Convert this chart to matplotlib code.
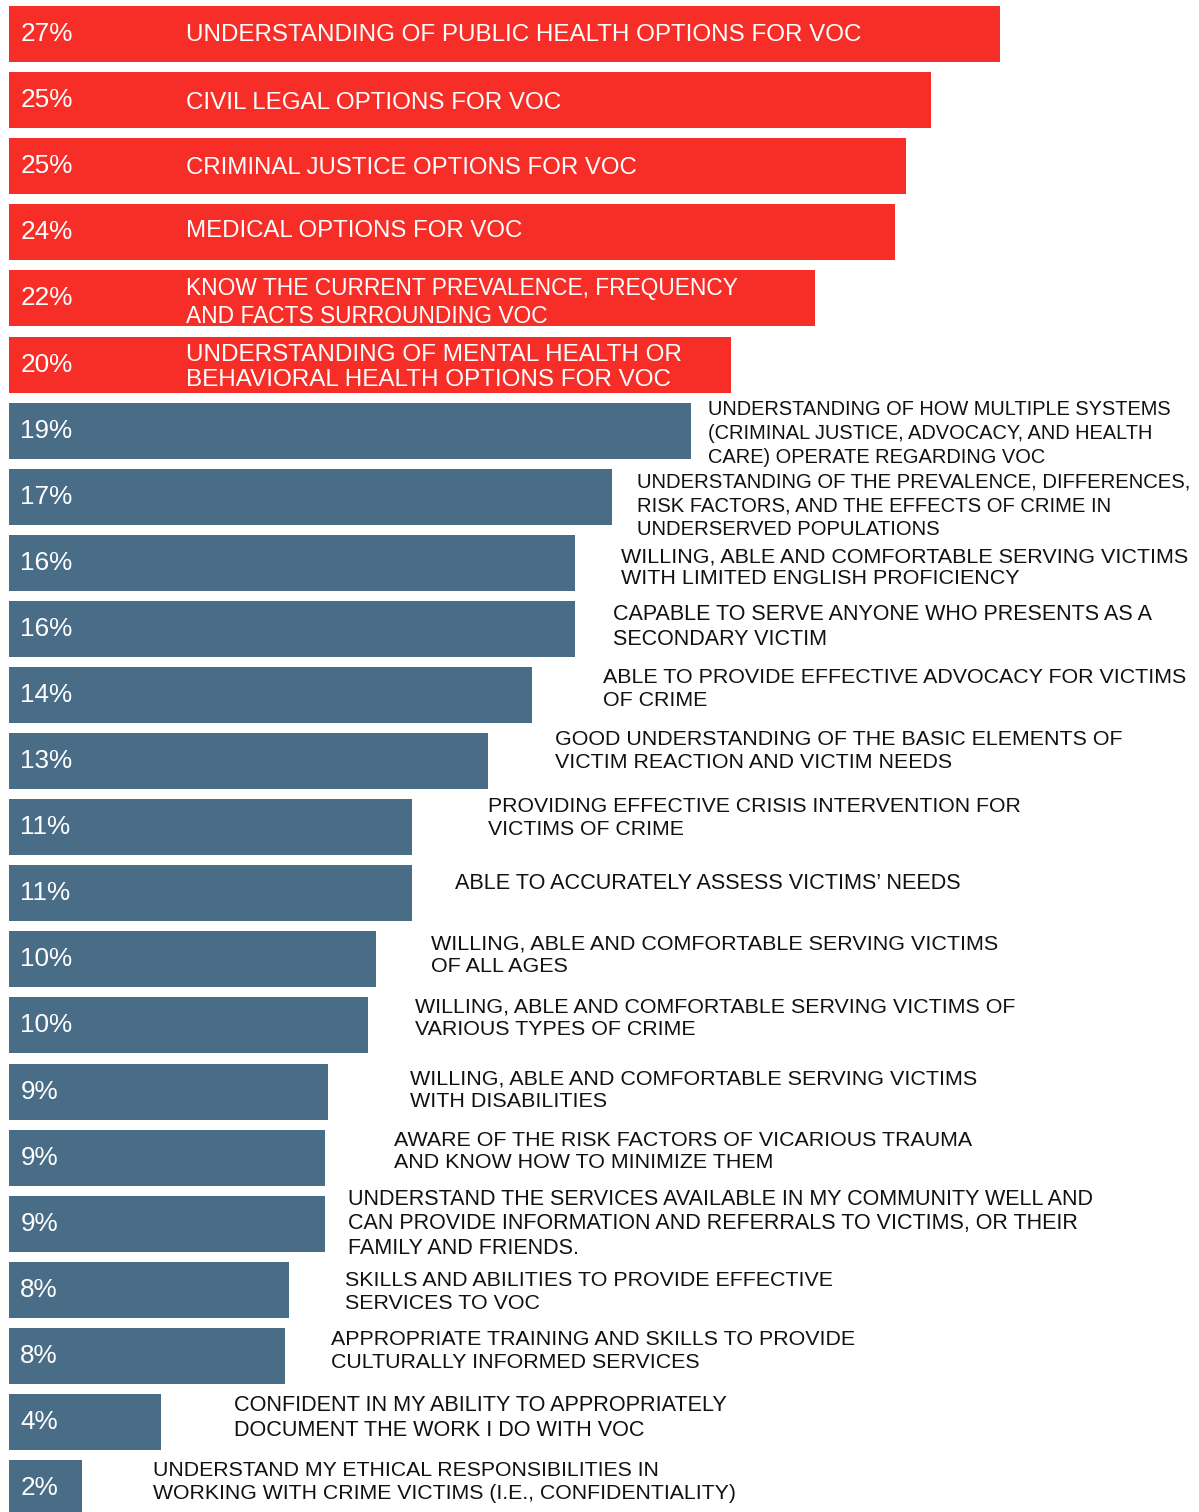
import matplotlib
matplotlib.use("Agg")
import matplotlib.pyplot as plt

# Share of respondents naming each competency area (%)
categories = [
    "UNDERSTANDING OF PUBLIC HEALTH OPTIONS FOR VOC",
    "CIVIL LEGAL OPTIONS FOR VOC",
    "CRIMINAL JUSTICE OPTIONS FOR VOC",
    "MEDICAL OPTIONS FOR VOC",
    "KNOW THE CURRENT PREVALENCE, FREQUENCY\nAND FACTS SURROUNDING VOC",
    "UNDERSTANDING OF MENTAL HEALTH OR\nBEHAVIORAL HEALTH OPTIONS FOR VOC",
    "UNDERSTANDING OF HOW MULTIPLE SYSTEMS\n(CRIMINAL JUSTICE, ADVOCACY, AND HEALTH\nCARE) OPERATE REGARDING VOC",
    "UNDERSTANDING OF THE PREVALENCE, DIFFERENCES,\nRISK FACTORS, AND THE EFFECTS OF CRIME IN\nUNDERSERVED POPULATIONS",
    "WILLING, ABLE AND COMFORTABLE SERVING VICTIMS\nWITH LIMITED ENGLISH PROFICIENCY",
    "CAPABLE TO SERVE ANYONE WHO PRESENTS AS A\nSECONDARY VICTIM",
    "ABLE TO PROVIDE EFFECTIVE ADVOCACY FOR VICTIMS\nOF CRIME",
    "GOOD UNDERSTANDING OF THE BASIC ELEMENTS OF\nVICTIM REACTION AND VICTIM NEEDS",
    "PROVIDING EFFECTIVE CRISIS INTERVENTION FOR\nVICTIMS OF CRIME",
    "ABLE TO ACCURATELY ASSESS VICTIMS\u2019 NEEDS",
    "WILLING, ABLE AND COMFORTABLE SERVING VICTIMS\nOF ALL AGES",
    "WILLING, ABLE AND COMFORTABLE SERVING VICTIMS OF\nVARIOUS TYPES OF CRIME",
    "WILLING, ABLE AND COMFORTABLE SERVING VICTIMS\nWITH DISABILITIES",
    "AWARE OF THE RISK FACTORS OF VICARIOUS TRAUMA\nAND KNOW HOW TO MINIMIZE THEM",
    "UNDERSTAND THE SERVICES AVAILABLE IN MY COMMUNITY WELL AND\nCAN PROVIDE INFORMATION AND REFERRALS TO VICTIMS, OR THEIR\nFAMILY AND FRIENDS.",
    "SKILLS AND ABILITIES TO PROVIDE EFFECTIVE\nSERVICES TO VOC",
    "APPROPRIATE TRAINING AND SKILLS TO PROVIDE\nCULTURALLY INFORMED SERVICES",
    "CONFIDENT IN MY ABILITY TO APPROPRIATELY\nDOCUMENT THE WORK I DO WITH VOC",
    "UNDERSTAND MY ETHICAL RESPONSIBILITIES IN\nWORKING WITH CRIME VICTIMS (I.E., CONFIDENTIALITY)",
]
values = [27.3, 25.4, 24.7, 24.4, 22.2, 19.9, 18.8, 16.6, 15.6, 15.6, 14.4,
          13.2, 11.1, 11.1, 10.1, 9.9, 8.8, 8.7, 8.7, 7.7, 7.6, 4.2, 2.0]
top_tier = 6  # leading items shown in red with the label inside the bar

# Label box layout (pixels): text block width, left edge, vertical nudge (down)
inside_width_px = [674, 374, 451, 336, 552, 496]
inside_dy_px = [0, 2, 1, -2, 3, 2]
outside_width_px = [466, 556, 567, 542, 585, 567, 536, 507, 567, 602, 568, 580,
                    748, 489, 525, 494, 585]
outside_left_px = [708, 637, 621, 613, 603, 555, 488, 455, 431, 415, 410, 394,
                   348, 345, 331, 234, 153]
outside_dy_px = [3, 9, 5, -2, -6, -10, -9, -10, -4, -7, -1, -6, 0, 2, -5, -4, -6]

RED = "#F72E28"
BLUE = "#4A6D87"
FONT = "Liberation Sans"

W, H, DPI = 1199, 1512, 100
fig = plt.figure(figsize=(W / DPI, H / DPI), dpi=DPI)
ax = fig.add_axes([0, 0, 1, 1])

px_per_pct = 36.3
x0_px = 9
pitch_px = 66.1
first_center_px = 34
ax.set_xlim(-x0_px / px_per_pct, (W - x0_px) / px_per_pct)
ax.set_ylim((H - first_center_px) / pitch_px, -first_center_px / pitch_px)
ax.axis("off")

n = len(values)
ypos = list(range(n))
colors = [RED if i < top_tier else BLUE for i in range(n)]
ax.barh(ypos, values, height=56 / pitch_px, color=colors, left=0, linewidth=0)

for i, v in enumerate(values):
    ax.text(0.31, i, f"{v:.0f}%", color="white", fontsize=18.8, family=FONT,
            ha="left", va="center")

labels = []  # (artist, target width px, line pitch px)
for i in range(top_tier):
    t = ax.annotate(categories[i], xy=(186, i), xycoords=("figure pixels", "data"),
                    xytext=(0, -1 - inside_dy_px[i]), textcoords="offset pixels",
                    color="white", fontsize=17, family=FONT, ha="left",
                    va="center")
    labels.append((t, inside_width_px[i], 27.5))

for k, i in enumerate(range(top_tier, n)):
    t = ax.annotate(categories[i], xy=(outside_left_px[k], i),
                    xycoords=("figure pixels", "data"),
                    xytext=(0, -outside_dy_px[k]), textcoords="offset pixels",
                    color="#111111", fontsize=16, family=FONT, ha="left",
                    va="center")
    labels.append((t, outside_width_px[k], 24.5))

# Size each label so its longest line spans its box, then set the line pitch
renderer = fig.canvas.get_renderer()
for t, width_px, pitch in labels:
    fs = t.get_fontsize()
    w = t.get_window_extent(renderer).width
    fs = fs * width_px / w
    t.set_fontsize(fs)
    t.set_linespacing(pitch / (0.934 * fs * DPI / 72))

fig.savefig("out.png", dpi=DPI)
